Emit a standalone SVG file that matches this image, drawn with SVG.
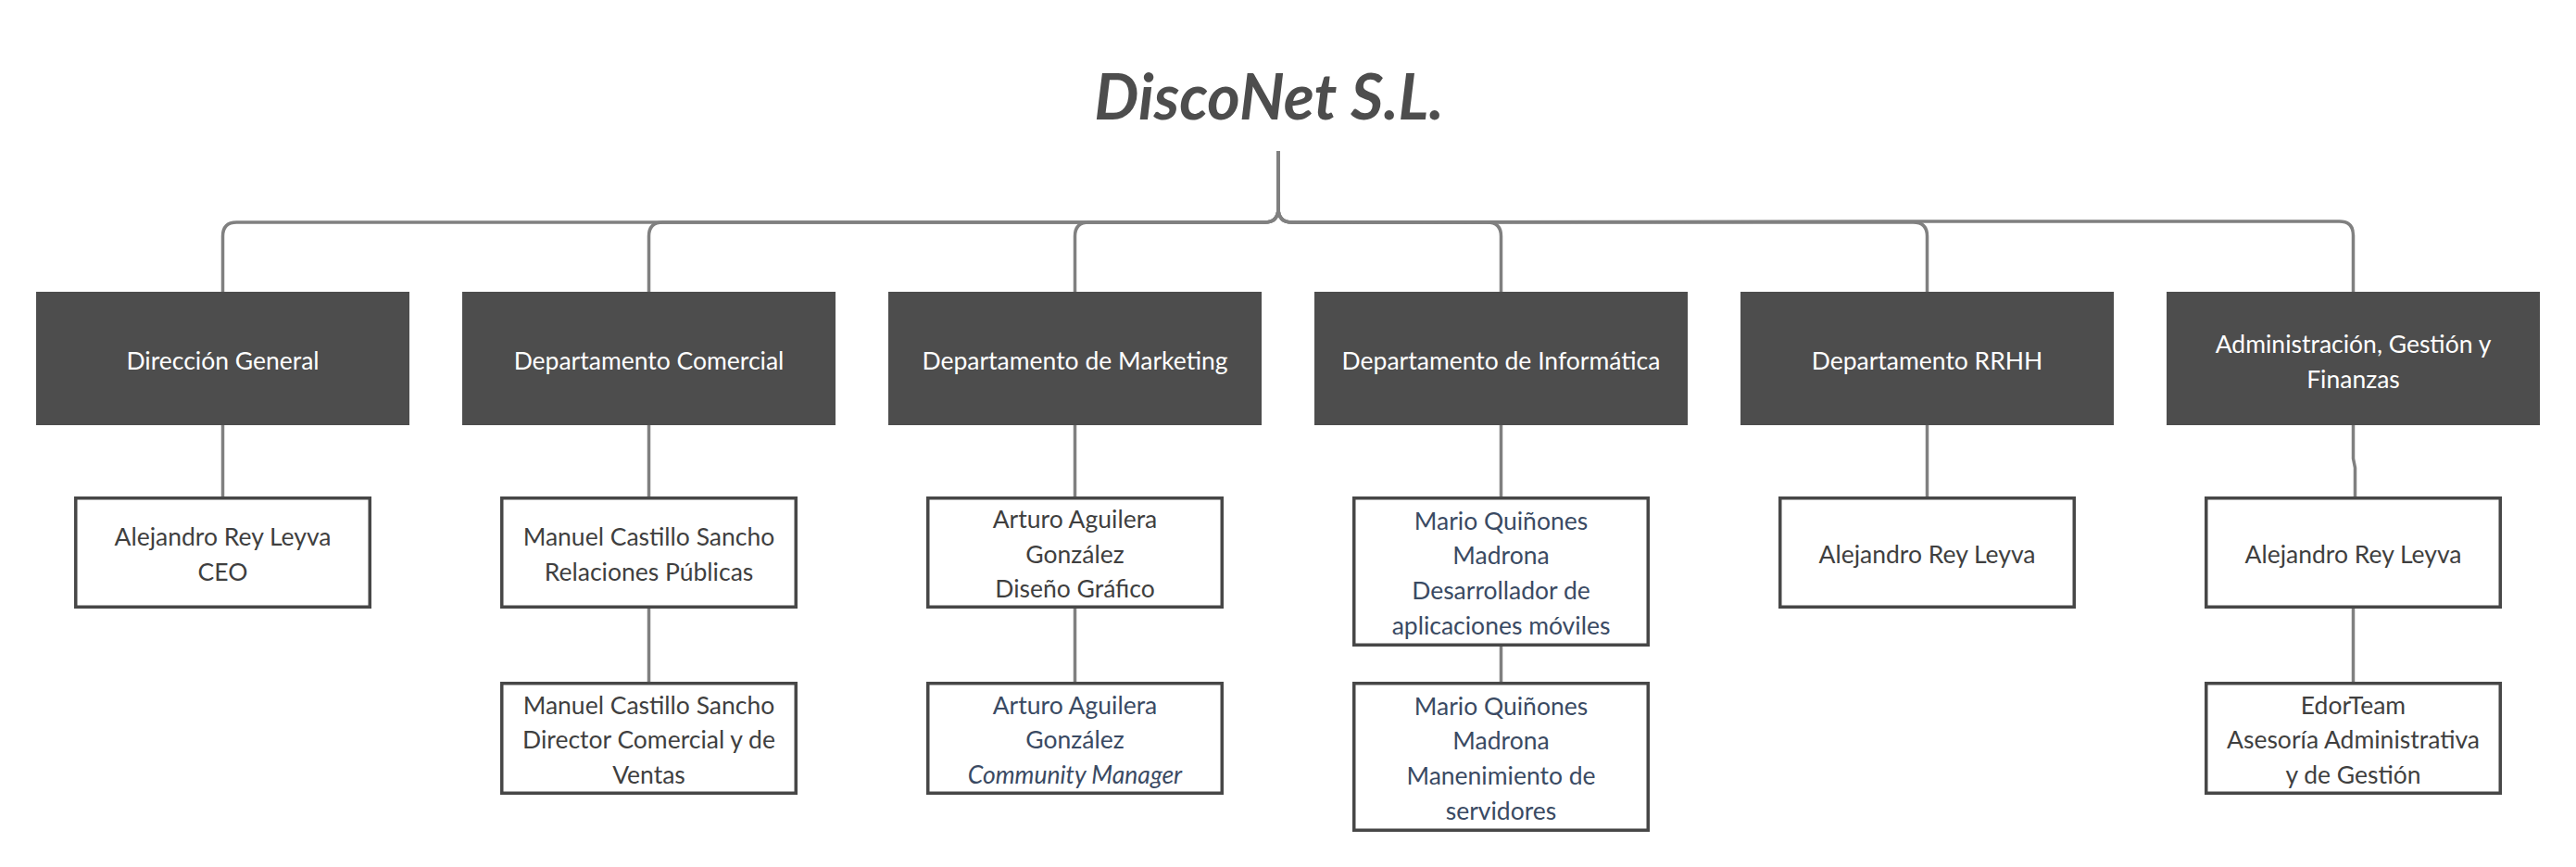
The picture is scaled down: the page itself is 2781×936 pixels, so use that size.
<svg xmlns="http://www.w3.org/2000/svg" width="2781" height="936" viewBox="0 0 2781 936">
<style>
  .conn { fill: none; stroke: #808080; stroke-width: 3.5; stroke-linejoin: round; }
  .dept rect { fill: #4d4d4d; }
  .dept text { fill: #ffffff; font-family: Lato, "Liberation Sans", sans-serif; font-size: 26.5px; text-anchor: middle; }
  .person rect { fill: #ffffff; stroke: #474747; stroke-width: 3.5; }
  .person text { fill: #3f3f3f; font-family: Lato, "Liberation Sans", sans-serif; font-size: 26.5px; text-anchor: middle; }
  .person text.blue { fill: #3a4a63; }
  .title { fill: #4d4d4d; font-family: Lato, "Liberation Sans", sans-serif; font-size: 68px; font-weight: bold; font-style: italic; text-anchor: middle; }
</style>
<rect width="2781" height="936" fill="#ffffff"/>

<g id="connectors">
  <path class="conn" d="M1380,163 V225 Q1380,240 1365,240 H255.5 Q240.5,240 240.5,255 V315"/>
  <path class="conn" d="M1380,163 V225 Q1380,240 1365,240 H715.5 Q700.5,240 700.5,255 V315"/>
  <path class="conn" d="M1380,163 V225 Q1380,240 1365,240 H1175.5 Q1160.5,240 1160.5,255 V315"/>
  <path class="conn" d="M1380,163 V225 Q1380,240 1395,240 H1605.5 Q1620.5,240 1620.5,255 V315"/>
  <path class="conn" d="M1380,163 V225 Q1380,240 1395,240 H2065.5 Q2080.5,240 2080.5,255 V315"/>
  <path class="conn" d="M1380,163 V225 Q1380,240 1395,240 L2072,239 H2525.5 Q2540.5,239 2540.5,254 V315"/>
  <path class="conn" d="M240.5,459 V536"/>
  <path class="conn" d="M700.5,459 V536"/>
  <path class="conn" d="M700.5,657 V736"/>
  <path class="conn" d="M1160.5,459 V536"/>
  <path class="conn" d="M1160.5,657 V736"/>
  <path class="conn" d="M1620.5,459 V536"/>
  <path class="conn" d="M1620.5,698 V736"/>
  <path class="conn" d="M2080.5,459 V536"/>
  <path class="conn" d="M2540.5,459 V495 L2542.5,505 V536"/>
  <path class="conn" d="M2540.5,657 V736"/>
</g>

<g id="title">
  <text class="title" x="1370" y="129">DiscoNet S.L.</text>
</g>

<g id="dept-direccion" class="dept">
  <rect x="39" y="315" width="403" height="144"/>
  <text x="240.5" y="398.5">Dirección General</text>
</g>
<g id="dept-comercial" class="dept">
  <rect x="499" y="315" width="403" height="144"/>
  <text x="700.5" y="398.5">Departamento Comercial</text>
</g>
<g id="dept-marketing" class="dept">
  <rect x="959" y="315" width="403" height="144"/>
  <text x="1160.5" y="398.5">Departamento de Marketing</text>
</g>
<g id="dept-informatica" class="dept">
  <rect x="1419" y="315" width="403" height="144"/>
  <text x="1620.5" y="398.5">Departamento de Informática</text>
</g>
<g id="dept-rrhh" class="dept">
  <rect x="1879" y="315" width="403" height="144"/>
  <text x="2080.5" y="398.5">Departamento RRHH</text>
</g>
<g id="dept-admin" class="dept">
  <rect x="2339" y="315" width="403" height="144"/>
  <text x="2540.5" y="380.5">Administración, Gestión y</text>
  <text x="2540.5" y="418.5">Finanzas</text>
</g>

<g id="p-ceo" class="person">
  <rect x="81.75" y="537.75" width="317.5" height="117.5"/>
  <text x="240.5" y="588.5">Alejandro Rey Leyva</text>
  <text x="240.5" y="626.5">CEO</text>
</g>
<g id="p-rrpp" class="person">
  <rect x="541.75" y="537.75" width="317.5" height="117.5"/>
  <text x="700.5" y="588.5">Manuel Castillo Sancho</text>
  <text x="700.5" y="626.5">Relaciones Públicas</text>
</g>
<g id="p-director-comercial" class="person">
  <rect x="541.75" y="737.75" width="317.5" height="118.5"/>
  <text x="700.5" y="770.5">Manuel Castillo Sancho</text>
  <text x="700.5" y="808.2">Director Comercial y de</text>
  <text x="700.5" y="845.9">Ventas</text>
</g>
<g id="p-diseno" class="person">
  <rect x="1001.75" y="537.75" width="317.5" height="117.5"/>
  <text x="1160.5" y="570">Arturo Aguilera</text>
  <text x="1160.5" y="607.7">González</text>
  <text x="1160.5" y="645.4">Diseño Gráfico</text>
</g>
<g id="p-community" class="person">
  <rect x="1001.75" y="737.75" width="317.5" height="118.5"/>
  <text class="blue" x="1160.5" y="770.5">Arturo Aguilera</text>
  <text class="blue" x="1160.5" y="808.2">González</text>
  <text class="blue" x="1160.5" y="845.9" font-style="italic">Community Manager</text>
</g>
<g id="p-movil" class="person">
  <rect x="1461.75" y="537.75" width="317.5" height="158.5"/>
  <text class="blue" x="1620.5" y="571.5">Mario Quiñones</text>
  <text class="blue" x="1620.5" y="609.2">Madrona</text>
  <text class="blue" x="1620.5" y="646.9">Desarrollador de</text>
  <text class="blue" x="1620.5" y="684.6">aplicaciones móviles</text>
</g>
<g id="p-servidores" class="person">
  <rect x="1461.75" y="737.75" width="317.5" height="158.5"/>
  <text class="blue" x="1620.5" y="771.5">Mario Quiñones</text>
  <text class="blue" x="1620.5" y="809.2">Madrona</text>
  <text class="blue" x="1620.5" y="846.9">Manenimiento de</text>
  <text class="blue" x="1620.5" y="884.6">servidores</text>
</g>
<g id="p-rrhh" class="person">
  <rect x="1921.75" y="537.75" width="317.5" height="117.5"/>
  <text x="2080.5" y="607.5">Alejandro Rey Leyva</text>
</g>
<g id="p-admin" class="person">
  <rect x="2381.75" y="537.75" width="317.5" height="117.5"/>
  <text x="2540.5" y="607.5">Alejandro Rey Leyva</text>
</g>
<g id="p-edorteam" class="person">
  <rect x="2381.75" y="737.75" width="317.5" height="118.5"/>
  <text x="2540.5" y="770.5">EdorTeam</text>
  <text x="2540.5" y="808.2">Asesoría Administrativa</text>
  <text x="2540.5" y="845.9">y de Gestión</text>
</g>
</svg>
